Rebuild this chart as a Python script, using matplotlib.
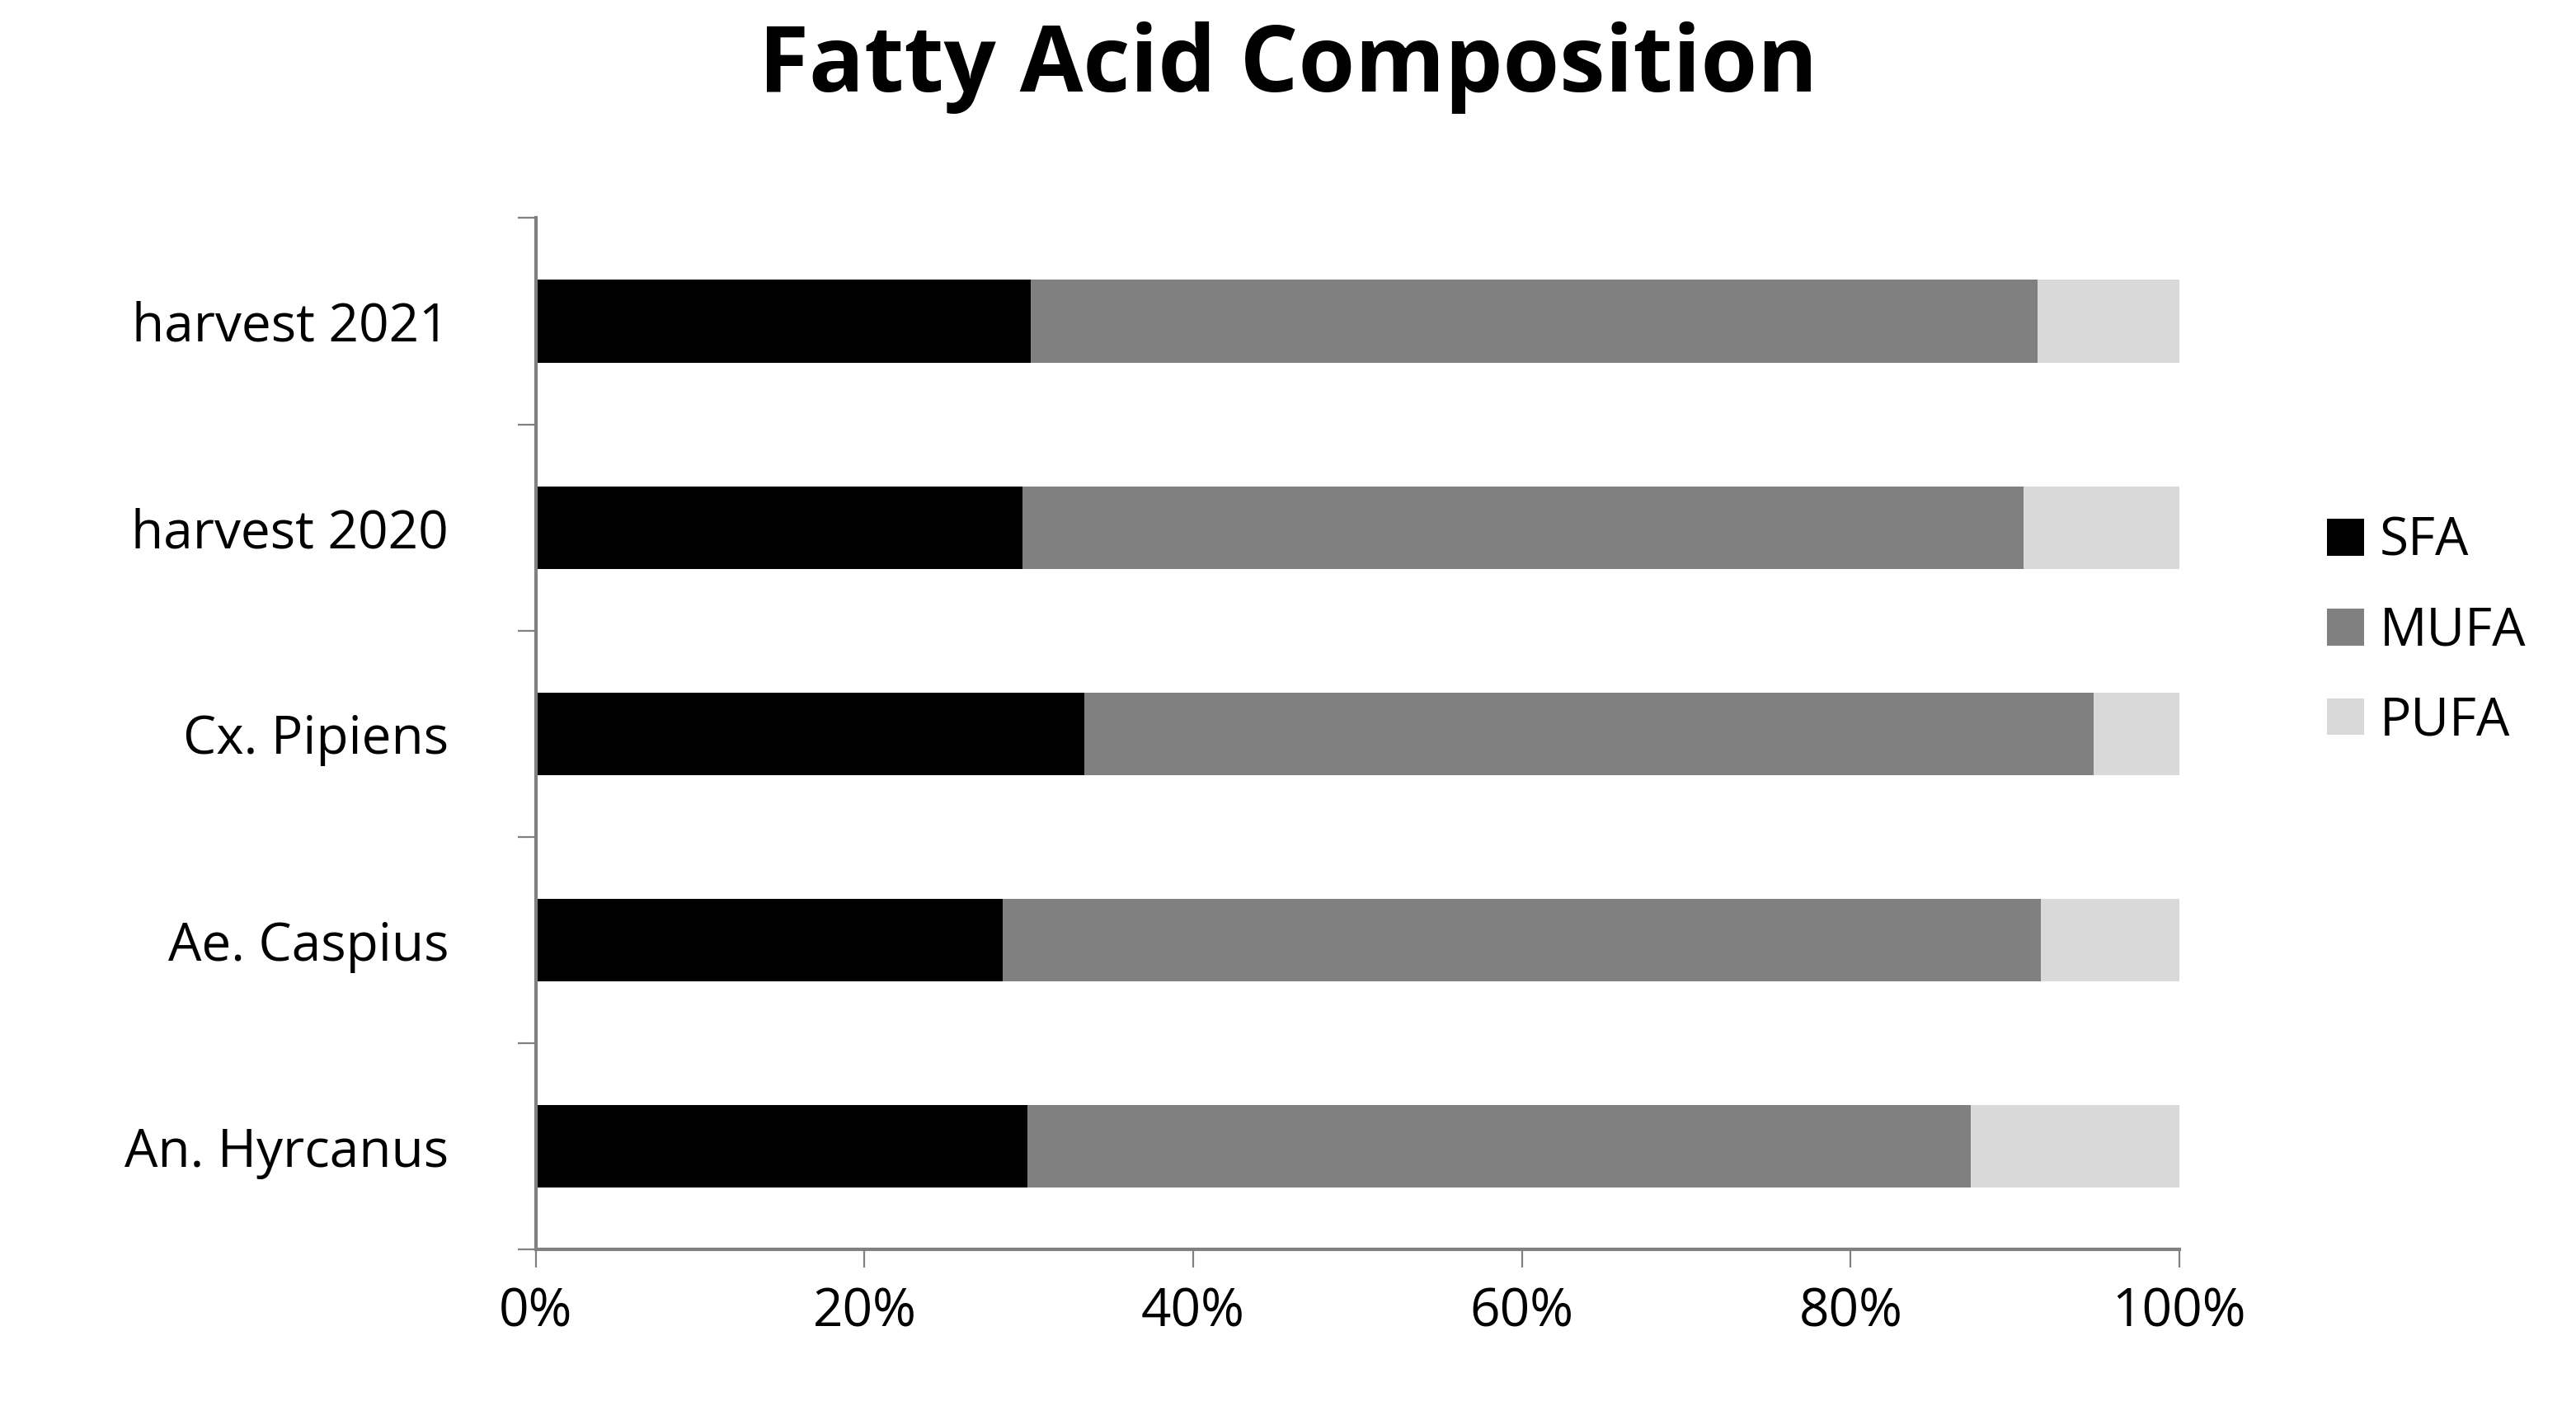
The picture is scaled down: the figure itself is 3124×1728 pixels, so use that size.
import matplotlib.pyplot as plt
import numpy as np

categories = ["An. Hyrcanus", "Ae. Caspius", "Cx. Pipiens", "harvest 2020", "harvest 2021"]
sfa = [29.9, 28.4, 33.4, 29.6, 30.1]
mufa = [57.4, 63.2, 61.4, 60.9, 61.3]
pufa = [12.7, 8.4, 5.2, 9.5, 8.6]
series = [("SFA", sfa, "#000000"), ("MUFA", mufa, "#808080"), ("PUFA", pufa, "#d9d9d9")]

plt.rcParams['font.family'] = ['Open Sans', 'DejaVu Sans']

fig = plt.figure(figsize=(15.62, 8.64), dpi=200)
ax = fig.add_axes([0.208, 0.123, 0.638, 0.724])

y = np.arange(len(categories))
left = np.zeros(len(categories))
for name, vals, color in series:
    ax.barh(y, vals, left=left, height=0.4, color=color, label=name)
    left += np.array(vals)

ax.set_xlim(0, 100)
ax.set_ylim(-0.5, len(categories) - 0.5)
ax.set_xticks(np.arange(0, 101, 20))
ax.set_xticklabels([f"{v}%" for v in range(0, 101, 20)], fontsize=23)
ax.set_yticks(np.arange(-0.5, len(categories), 1.0))
ax.set_yticklabels([])
ax.set_yticks(y, minor=True)
ax.set_yticklabels(categories, minor=True, fontsize=23)
ax.tick_params(axis='y', which='minor', length=0, pad=38)
ax.tick_params(axis='y', which='major', length=8, direction='out', color='#808080')
ax.tick_params(axis='x', length=8, direction='out', color='#808080', pad=8)
for s in ['top', 'right']:
    ax.spines[s].set_visible(False)
for s in ['left', 'bottom']:
    ax.spines[s].set_color('#808080')
    ax.spines[s].set_linewidth(1.5)

fig.suptitle("Fatty Acid Composition", fontsize=40, fontweight='bold', y=0.985)
fig.legend(loc='center left', bbox_to_anchor=(0.885, 0.557), frameon=False,
           fontsize=23, handlelength=0.7, handleheight=0.7, handletextpad=0.3,
           labelspacing=0.7)

fig.savefig("out.png", dpi=200)
